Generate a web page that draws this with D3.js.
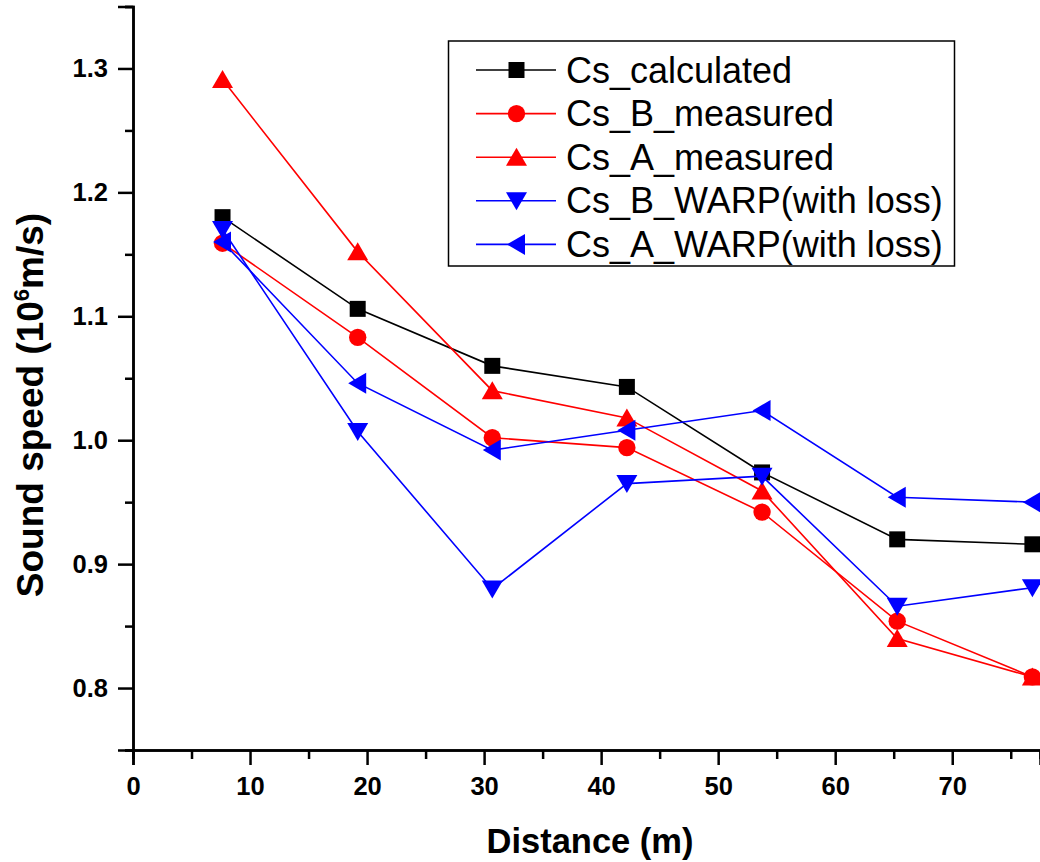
<!DOCTYPE html>
<html>
<head>
<meta charset="utf-8">
<script src="https://cdn.jsdelivr.net/npm/d3@7/dist/d3.min.js"></script>
<style>
  html, body { margin: 0; padding: 0; background: #fff; }
  svg { display: block; }
  svg text { font-family: "Liberation Sans", Arial, sans-serif; }
</style>
</head>
<body>
<svg id="chart" width="1040" height="862"></svg>
<script>
// Distance along the sample (m)
const distance = [7.65, 19.2, 30.7, 42.2, 53.75, 65.3, 76.85];

// Sound speed (10^6 m/s) per series
const csCalculated = [1.180, 1.106, 1.060, 1.043, 0.974, 0.920, 0.916];
const csBMeasured  = [1.159, 1.083, 1.002, 0.994, 0.942, 0.854, 0.809];
const csAMeasured  = [1.291, 1.152, 1.040, 1.018, 0.959, 0.840, 0.809];
const csBWarp      = [1.170, 1.007, 0.880, 0.965, 0.971, 0.866, 0.881];
const csAWarp      = [1.160, 1.046, 0.992, 1.008, 1.024, 0.954, 0.950];

const seriesNames = ["Cs_calculated", "Cs_B_measured", "Cs_A_measured",
                     "Cs_B_WARP(with loss)", "Cs_A_WARP(with loss)"];
const seriesValues = [csCalculated, csBMeasured, csAMeasured, csBWarp, csAWarp];
const seriesColors = ["#000000", "#ff0000", "#ff0000", "#0000ff", "#0000ff"];
const seriesSymbols = ["square", "circle", "up", "down", "left"];

const xMajor = [0, 10, 20, 30, 40, 50, 60, 70];
const xMinor = [5, 15, 25, 35, 45, 55, 65, 75];
const yMajor = [0.8, 0.9, 1.0, 1.1, 1.2, 1.3];
const yMinor = [0.75, 0.85, 0.95, 1.05, 1.15, 1.25, 1.35];

const FONT = '"Liberation Sans", Arial, sans-serif';
const svg = d3.select("#chart");

const x = d3.scaleLinear().domain([0, 77.5]).range([133, 1040]);
const y = d3.scaleLinear().domain([0.75, 1.35]).range([750, 6.5]);

// Symbol path generators, centred on (0,0)
function symbolPath(kind) {
  switch (kind) {
    case "square": return "M-8,-8H8V8H-8Z";
    case "circle": return "M-8.7,0A8.7,8.7 0 1 0 8.7,0A8.7,8.7 0 1 0 -8.7,0Z";
    case "up":     return "M0,-9.5L10.5,8.5L-10.5,8.5Z";
    case "down":   return "M0,9.5L10.5,-8.5L-10.5,-8.5Z";
    case "left":   return "M-9.5,0L8.5,-10.5L8.5,10.5Z";
  }
}

// Axes
const axisStyle = g => {
  g.attr("font-family", FONT).attr("font-size", 25.5);
  g.select(".domain").attr("stroke", "#000").attr("stroke-width", 2.5);
  g.selectAll(".tick line").attr("stroke", "#000").attr("stroke-width", 2.5);
  g.selectAll(".tick text")
    .attr("fill", "#000")
    .attr("font-family", FONT)
    .attr("font-size", 25.5)
    .attr("font-weight", "bold");
};

svg.append("g")
  .attr("transform", `translate(0,${y(0.75)})`)
  .call(d3.axisBottom(x).tickValues(xMinor).tickSize(9).tickFormat(""))
  .call(axisStyle);

svg.append("g")
  .attr("transform", `translate(0,${y(0.75)})`)
  .call(d3.axisBottom(x).tickValues(xMajor).tickSize(15).tickPadding(12)
        .tickFormat(d3.format("d")))
  .call(axisStyle);

svg.append("g")
  .attr("transform", `translate(${x(0)},0)`)
  .call(d3.axisLeft(y).tickValues(yMinor).tickSize(8).tickFormat(""))
  .call(axisStyle);

svg.append("g")
  .attr("transform", `translate(${x(0)},0)`)
  .call(d3.axisLeft(y).tickValues(yMajor).tickSize(15).tickPadding(10)
        .tickFormat(d3.format(".1f")))
  .call(axisStyle);

// Axis titles
svg.append("text")
  .attr("x", 590).attr("y", 853)
  .attr("text-anchor", "middle")
  .attr("font-size", 34.5).attr("font-weight", "bold")
  .text("Distance (m)");

const yTitle = svg.append("text")
  .attr("transform", "translate(43,405) rotate(-90)")
  .attr("text-anchor", "middle")
  .attr("font-size", 37).attr("font-weight", "bold");
yTitle.append("tspan").text("Sound speed (10");
yTitle.append("tspan").attr("font-size", 22).attr("dy", -14).text("6");
yTitle.append("tspan").attr("dy", 14).text("m/s)");

// Series lines and symbols
const line = d3.line().x((d, i) => x(distance[i])).y(d => y(d));

seriesValues.forEach((vals, s) => {
  const g = svg.append("g");
  g.append("path")
    .datum(vals)
    .attr("d", line)
    .attr("fill", "none")
    .attr("stroke", seriesColors[s])
    .attr("stroke-width", 1.6);
  g.selectAll("path.sym")
    .data(vals)
    .join("path")
    .attr("class", "sym")
    .attr("transform", (d, i) => `translate(${x(distance[i])},${y(d)})`)
    .attr("d", symbolPath(seriesSymbols[s]))
    .attr("fill", seriesColors[s]);
});

// Legend
const legend = svg.append("g");
legend.append("rect")
  .attr("x", 448.5).attr("y", 41)
  .attr("width", 506).attr("height", 225)
  .attr("fill", "#fff")
  .attr("stroke", "#000").attr("stroke-width", 1.5);

seriesNames.forEach((name, s) => {
  const cy = 70 + s * 43.6;
  legend.append("line")
    .attr("x1", 476).attr("x2", 556)
    .attr("y1", cy).attr("y2", cy)
    .attr("stroke", seriesColors[s]).attr("stroke-width", 1.6);
  legend.append("path")
    .attr("transform", `translate(516.5,${cy})`)
    .attr("d", symbolPath(seriesSymbols[s]))
    .attr("fill", seriesColors[s]);
  legend.append("text")
    .attr("x", 566).attr("y", cy + 12.5)
    .attr("font-size", 36)
    .attr("fill", "#000")
    .text(name);
});
</script>
</body>
</html>
